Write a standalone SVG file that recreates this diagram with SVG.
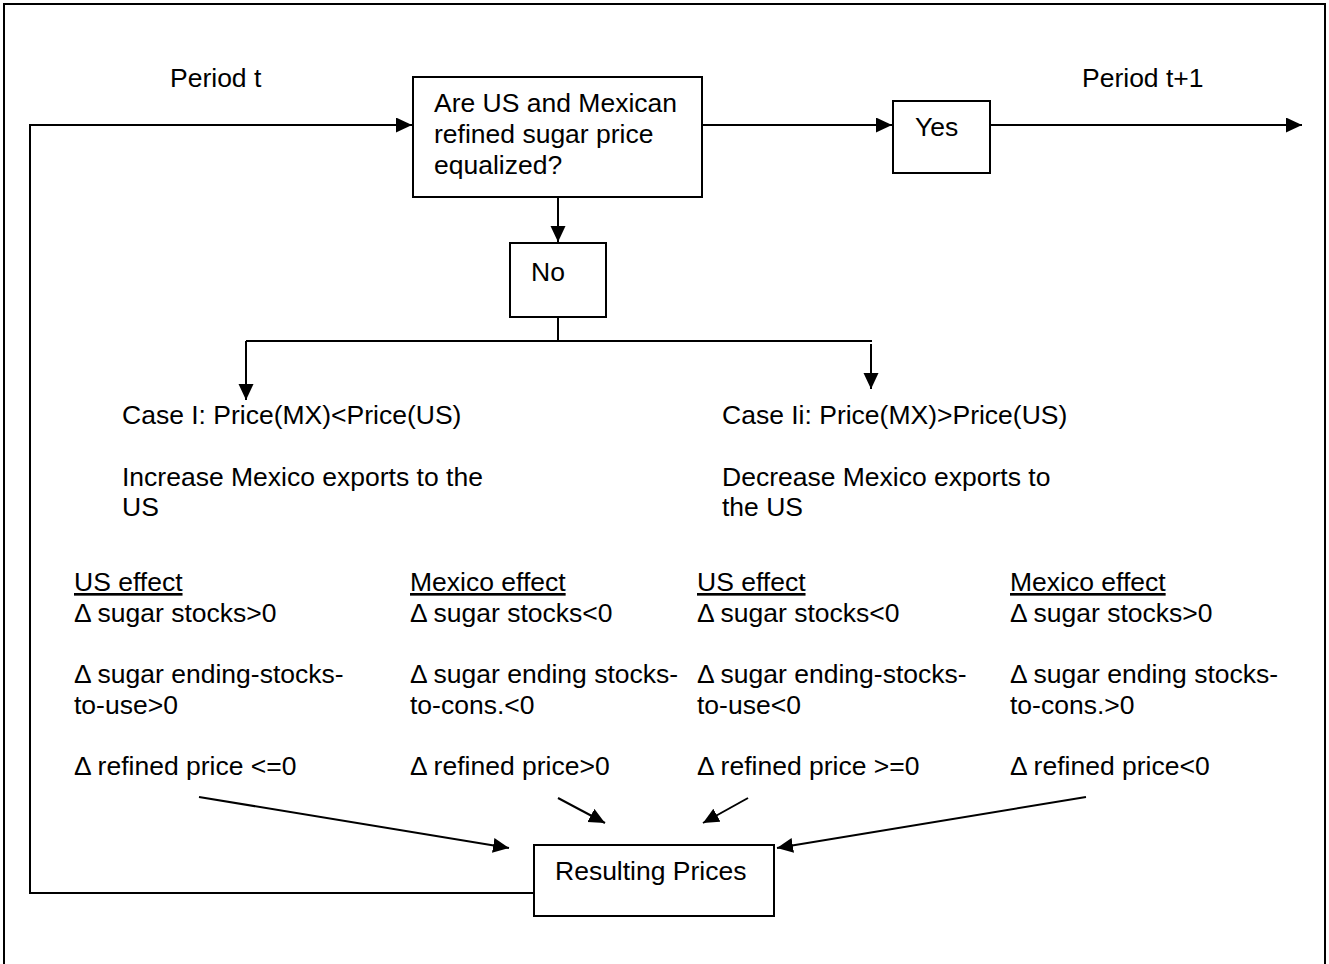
<svg xmlns="http://www.w3.org/2000/svg" width="1329" height="964" viewBox="0 0 1329 964">
<style>
text{font-family:"Liberation Sans",Arial,sans-serif;font-size:26.5px;fill:#000}
.box{fill:#fff;stroke:#000;stroke-width:2}
.ln{fill:none;stroke:#000;stroke-width:2}
.u{text-decoration:underline}
</style>
<defs>
<marker id="ah" markerUnits="userSpaceOnUse" markerWidth="18" markerHeight="18" refX="16" refY="7.5" orient="auto">
<path d="M0,0 L16,7.5 L0,15 z" fill="#000"/>
</marker>
</defs>
<rect width="1329" height="964" fill="#fff"/>
<path d="M4,966 V4 H1325 V966" class="ln"/>
<text x="170" y="87">Period t</text>
<text x="1082" y="87">Period t+1</text>
<g id="connectors">
<path d="M534,893 H30 V125 H412" class="ln" marker-end="url(#ah)"/>
<path d="M702,125 H892" class="ln" marker-end="url(#ah)"/>
<path d="M990,125 H1302" class="ln" marker-end="url(#ah)"/>
<path d="M558,197 V242" class="ln" marker-end="url(#ah)"/>
<path d="M558,317 V341" class="ln"/>
<path d="M246,341 H872" class="ln"/>
<path d="M246,341 V400" class="ln" marker-end="url(#ah)"/>
<path d="M871,344 V389" class="ln" marker-end="url(#ah)"/>
<path d="M199,797 L509,848" class="ln" marker-end="url(#ah)"/>
<path d="M558,798 L605,823" class="ln" marker-end="url(#ah)"/>
<path d="M748,798 L703,823" class="ln" marker-end="url(#ah)"/>
<path d="M1086,797 L777,848" class="ln" marker-end="url(#ah)"/>
</g>
<g id="question">
<rect x="413" y="77" width="289" height="120" class="box"/>
<text x="434" y="112">Are US and Mexican</text>
<text x="434" y="143">refined sugar price</text>
<text x="434" y="174">equalized?</text>
</g>
<g id="yes">
<rect x="893" y="101" width="97" height="72" class="box"/>
<text x="915" y="136">Yes</text>
</g>
<g id="no">
<rect x="510" y="243" width="96" height="74" class="box"/>
<text x="531" y="281">No</text>
</g>
<g id="case1">
<text x="122" y="424">Case I: Price(MX)&lt;Price(US)</text>
<text x="122" y="486">Increase Mexico exports to the</text>
<text x="122" y="516">US</text>
</g>
<g id="case2">
<text x="722" y="424">Case Ii: Price(MX)&gt;Price(US)</text>
<text x="722" y="486">Decrease Mexico exports to</text>
<text x="722" y="516">the US</text>
</g>
<g id="us-effect-1">
<text x="74" y="591" class="u">US effect</text>
<text x="74" y="622">Δ sugar stocks&gt;0</text>
<text x="74" y="683">Δ sugar ending-stocks-</text>
<text x="74" y="714">to-use&gt;0</text>
<text x="74" y="775">Δ refined price &lt;=0</text>
</g>
<g id="mexico-effect-1">
<text x="410" y="591" class="u">Mexico effect</text>
<text x="410" y="622">Δ sugar stocks&lt;0</text>
<text x="410" y="683">Δ sugar ending stocks-</text>
<text x="410" y="714">to-cons.&lt;0</text>
<text x="410" y="775">Δ refined price&gt;0</text>
</g>
<g id="us-effect-2">
<text x="697" y="591" class="u">US effect</text>
<text x="697" y="622">Δ sugar stocks&lt;0</text>
<text x="697" y="683">Δ sugar ending-stocks-</text>
<text x="697" y="714">to-use&lt;0</text>
<text x="697" y="775">Δ refined price &gt;=0</text>
</g>
<g id="mexico-effect-2">
<text x="1010" y="591" class="u">Mexico effect</text>
<text x="1010" y="622">Δ sugar stocks&gt;0</text>
<text x="1010" y="683">Δ sugar ending stocks-</text>
<text x="1010" y="714">to-cons.&gt;0</text>
<text x="1010" y="775">Δ refined price&lt;0</text>
</g>
<g id="resulting">
<rect x="534" y="845" width="240" height="71" class="box"/>
<text x="555" y="880">Resulting Prices</text>
</g>
</svg>
